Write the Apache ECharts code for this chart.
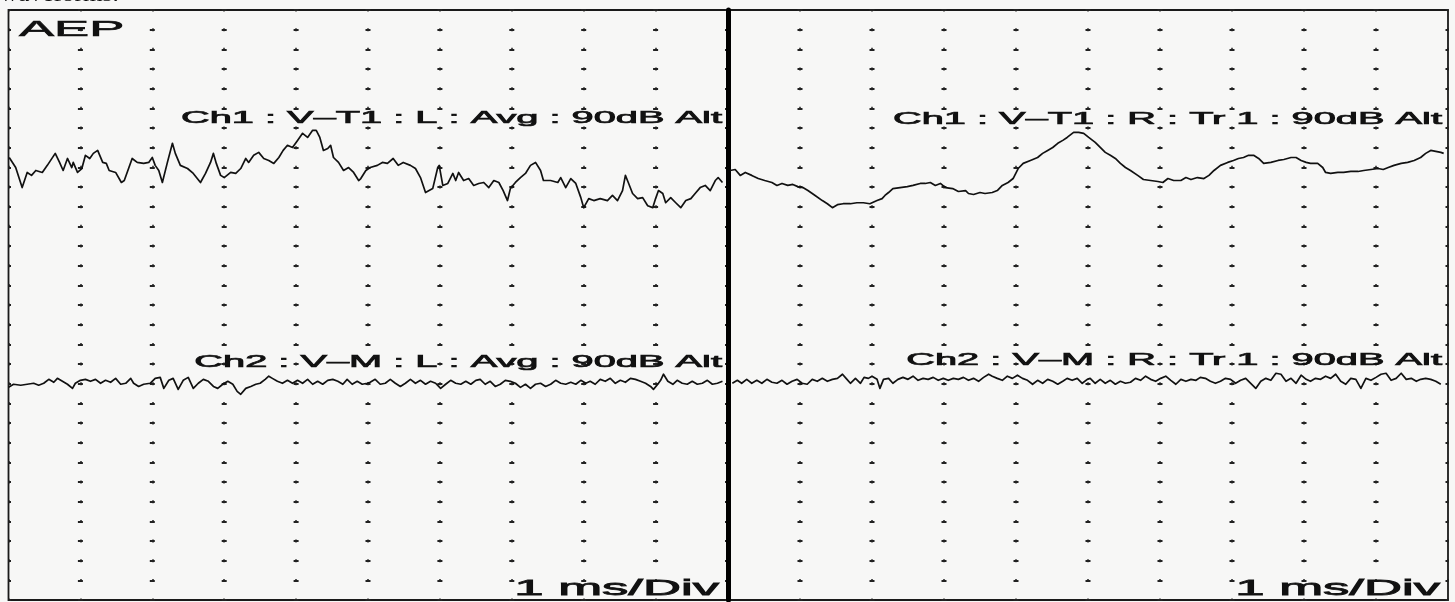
<!DOCTYPE html>
<html>
<head>
<meta charset="utf-8">
<script src="https://cdn.jsdelivr.net/npm/echarts@6/dist/echarts.min.js"></script>
<style>
  html, body { margin: 0; padding: 0; background: #f7f7f6; }
  #chart { width: 1455px; height: 602px; }
</style>
</head>
<body>
<div id="chart"></div>
<script>
// ---- Data (time in ms, amplitude in grid divisions; 30 divisions tall, 10 ms wide) ----
const timeTicksMs = [0, 1, 2, 3, 4, 5, 6, 7, 8, 9, 10];
const figureCaption = 'waveforms.';
const panelTitle = 'AEP';
const sweepLabel = '1 ms/Div';
const traceLabels = [
  'Ch1 : V\u2013T1 : L : Avg : 90dB Alt',
  'Ch1 : V\u2013T1 : R : Tr 1 : 90dB Alt',
  'Ch2 : V\u2013M : L : Avg : 90dB Alt',
  'Ch2 : V\u2013M : R : Tr 1 : 90dB Alt'
];

const ch1LeftAvg = [
  [0.01,22.50],[0.10,21.99],[0.19,20.97],[0.26,21.74],[0.32,21.59],[0.38,21.84],[0.47,21.74],[0.54,22.10],
  [0.65,22.71],[0.71,22.25],[0.76,21.84],[0.82,22.45],[0.88,21.99],[0.90,22.25],[0.96,21.74],[1.02,21.94],
  [1.07,22.61],[1.13,22.45],[1.18,22.71],[1.24,22.86],[1.31,22.25],[1.36,22.20],[1.40,21.84],[1.49,21.74],
  [1.57,21.23],[1.61,21.33],[1.67,21.94],[1.72,22.45],[1.79,22.25],[1.88,22.20],[1.95,22.25],[2.00,22.50],
  [2.04,22.10],[2.09,21.84],[2.14,21.23],[2.21,22.25],[2.28,23.22],[2.32,22.71],[2.39,22.10],[2.49,21.94],
  [2.57,21.69],[2.67,21.23],[2.74,21.69],[2.81,22.25],[2.85,22.71],[2.89,22.20],[2.95,21.59],[3.00,21.48],
  [3.09,21.74],[3.16,21.69],[3.23,21.94],[3.30,22.45],[3.34,22.25],[3.41,22.61],[3.48,22.76],[3.55,22.45],
  [3.62,22.35],[3.69,22.20],[3.76,22.50],[3.82,22.86],[3.88,23.12],[3.95,23.01],[4.02,23.37],[4.09,23.73],
  [4.16,23.52],[4.23,23.88],[4.28,23.88],[4.33,23.52],[4.38,22.86],[4.44,22.96],[4.48,23.12],[4.52,22.50],
  [4.59,22.25],[4.66,21.84],[4.73,21.99],[4.80,21.74],[4.87,21.33],[4.90,21.43],[4.97,21.84],[5.03,21.99],
  [5.13,22.10],[5.20,22.25],[5.27,22.20],[5.35,22.45],[5.42,22.10],[5.49,22.25],[5.59,22.10],[5.66,21.94],
  [5.73,21.48],[5.80,20.72],[5.90,20.92],[5.97,21.99],[5.99,22.10],[6.04,21.08],[6.11,21.18],[6.18,21.69],
  [6.22,21.33],[6.26,21.74],[6.33,21.33],[6.40,21.43],[6.47,21.08],[6.54,21.18],[6.61,21.23],[6.68,20.97],
  [6.75,21.33],[6.82,21.23],[6.88,20.82],[6.94,20.31],[6.98,20.92],[7.05,21.23],[7.12,21.48],[7.19,21.69],
  [7.26,22.10],[7.33,22.25],[7.40,21.84],[7.44,21.33],[7.54,21.33],[7.64,21.23],[7.68,21.48],[7.75,20.97],
  [7.82,21.43],[7.89,21.18],[7.96,20.46],[8.00,19.95],[8.07,20.41],[8.14,20.31],[8.23,20.41],[8.33,20.31],
  [8.40,20.57],[8.47,20.31],[8.54,20.82],[8.58,21.59],[8.62,21.23],[8.68,20.67],[8.75,20.41],[8.82,20.46],
  [8.89,20.05],[8.96,19.95],[9.00,20.41],[9.04,20.82],[9.10,20.67],[9.14,20.20],[9.21,20.46],[9.28,20.20],
  [9.35,19.95],[9.42,20.31],[9.49,20.41],[9.55,20.67],[9.62,20.97],[9.69,21.08],[9.76,20.82],[9.83,21.33],
  [9.87,21.48],[9.93,21.23]
];

const ch1RightTr1 = [
  [0.03,21.84],[0.10,21.89],[0.17,21.59],[0.24,21.74],[0.33,21.59],[0.42,21.43],[0.51,21.33],[0.61,21.23],
  [0.68,21.08],[0.75,21.18],[0.83,21.08],[0.90,21.13],[0.97,21.02],[1.04,20.97],[1.11,20.82],[1.21,20.57],
  [1.31,20.31],[1.38,20.15],[1.45,19.95],[1.52,20.10],[1.60,20.15],[1.70,20.15],[1.79,20.20],[1.88,20.20],
  [1.97,20.15],[2.07,20.31],[2.14,20.41],[2.18,20.57],[2.23,20.72],[2.29,20.92],[2.39,20.97],[2.49,21.02],
  [2.57,21.08],[2.67,21.18],[2.74,21.18],[2.81,21.23],[2.88,21.08],[2.95,21.18],[3.02,20.97],[3.12,20.92],
  [3.20,20.77],[3.30,20.82],[3.34,20.67],[3.41,20.62],[3.50,20.72],[3.57,20.67],[3.67,20.72],[3.74,20.82],
  [3.81,21.08],[3.89,21.23],[3.96,21.43],[4.03,21.94],[4.10,22.20],[4.20,22.35],[4.30,22.50],[4.37,22.71],
  [4.44,22.86],[4.51,23.01],[4.58,23.22],[4.65,23.37],[4.71,23.52],[4.80,23.78],[4.87,23.78],[4.94,23.73],
  [5.01,23.52],[5.10,23.27],[5.17,23.01],[5.24,22.76],[5.31,22.61],[5.38,22.45],[5.45,22.20],[5.52,21.99],
  [5.59,21.84],[5.69,21.59],[5.77,21.38],[5.87,21.33],[5.97,21.28],[6.04,21.23],[6.11,21.43],[6.19,21.33],
  [6.29,21.33],[6.36,21.48],[6.43,21.38],[6.52,21.48],[6.61,21.43],[6.68,21.59],[6.75,21.84],[6.84,22.10],
  [6.94,22.25],[7.02,22.35],[7.09,22.45],[7.16,22.50],[7.23,22.61],[7.30,22.61],[7.37,22.45],[7.44,22.20],
  [7.54,22.25],[7.64,22.35],[7.72,22.40],[7.82,22.50],[7.89,22.50],[7.96,22.35],[8.03,22.25],[8.09,22.20],
  [8.19,22.20],[8.26,21.99],[8.30,21.74],[8.37,21.69],[8.47,21.74],[8.55,21.74],[8.65,21.79],[8.75,21.79],
  [8.83,21.84],[8.93,21.89],[9.03,21.94],[9.10,21.89],[9.17,21.99],[9.25,22.10],[9.35,22.20],[9.44,22.25],
  [9.53,22.35],[9.62,22.50],[9.69,22.71],[9.76,22.86],[9.83,22.81],[9.90,22.76],[9.94,22.71]
];

const ch2LeftAvg = [
  [0.00,10.81],[0.07,10.97],[0.17,10.92],[0.26,10.97],[0.35,11.02],[0.42,10.92],[0.49,11.02],[0.56,11.22],
  [0.63,11.07],[0.68,11.27],[0.75,11.12],[0.82,10.97],[0.89,10.76],[0.93,11.02],[1.00,11.17],[1.07,11.22],
  [1.14,11.12],[1.21,11.22],[1.28,11.02],[1.35,11.17],[1.42,11.07],[1.49,11.27],[1.56,10.97],[1.63,11.02],
  [1.70,11.27],[1.74,11.02],[1.81,10.86],[1.88,10.97],[1.97,11.02],[2.04,11.27],[2.11,11.32],[2.16,10.76],
  [2.23,11.17],[2.29,11.27],[2.36,10.71],[2.43,11.17],[2.50,11.32],[2.57,10.76],[2.64,11.02],[2.71,11.22],
  [2.78,11.12],[2.85,10.86],[2.91,10.76],[2.98,10.97],[3.05,11.12],[3.12,10.97],[3.18,10.61],[3.23,10.46],
  [3.30,10.76],[3.37,10.86],[3.44,10.97],[3.50,11.02],[3.57,11.22],[3.62,11.38],[3.67,11.27],[3.74,11.12],
  [3.81,11.02],[3.88,11.17],[3.95,11.02],[4.02,11.17],[4.09,11.02],[4.16,11.22],[4.23,10.97],[4.30,11.12],
  [4.37,10.97],[4.44,11.17],[4.51,11.22],[4.58,11.12],[4.65,10.97],[4.71,11.22],[4.78,10.97],[4.85,11.12],
  [4.92,10.97],[4.99,11.02],[5.03,11.07],[5.10,11.22],[5.17,10.97],[5.24,11.02],[5.31,11.22],[5.38,11.02],
  [5.45,10.86],[5.52,11.02],[5.59,11.22],[5.66,11.02],[5.73,11.17],[5.80,10.97],[5.87,11.12],[5.94,11.02],
  [6.01,10.76],[6.08,10.97],[6.15,11.17],[6.22,11.02],[6.29,10.97],[6.36,11.12],[6.43,10.97],[6.50,11.17],
  [6.56,11.22],[6.63,10.97],[6.70,11.12],[6.77,10.86],[6.84,10.97],[6.91,11.17],[6.98,11.12],[7.05,11.02],
  [7.12,10.81],[7.19,10.97],[7.26,10.76],[7.33,10.97],[7.40,11.02],[7.47,10.86],[7.54,10.97],[7.61,11.17],
  [7.68,11.02],[7.75,10.97],[7.82,11.07],[7.89,10.97],[7.96,11.17],[8.03,11.02],[8.09,11.12],[8.16,10.97],
  [8.23,11.22],[8.30,11.12],[8.37,11.27],[8.44,11.02],[8.51,11.17],[8.58,11.07],[8.65,11.27],[8.72,11.22],
  [8.79,11.12],[8.86,11.02],[8.93,10.86],[8.97,10.71],[9.03,10.97],[9.07,11.17],[9.11,11.48],[9.17,11.12],
  [9.24,10.97],[9.30,11.17],[9.37,11.02],[9.44,10.97],[9.51,11.12],[9.58,10.97],[9.65,11.02],[9.72,11.17],
  [9.79,10.97],[9.86,11.02],[9.93,11.12]
];

const ch2RightTr1 = [
  [0.06,11.02],[0.13,11.17],[0.19,11.02],[0.26,11.22],[0.33,11.02],[0.40,11.17],[0.47,11.02],[0.54,11.22],
  [0.61,11.07],[0.68,11.02],[0.75,11.17],[0.82,10.97],[0.89,11.12],[0.96,11.22],[1.03,11.02],[1.10,10.97],
  [1.17,11.22],[1.24,11.12],[1.31,11.27],[1.38,11.12],[1.45,11.22],[1.52,11.27],[1.59,11.48],[1.64,11.27],
  [1.70,11.02],[1.77,11.27],[1.84,11.02],[1.89,11.32],[1.95,11.27],[2.00,11.38],[2.07,11.22],[2.11,10.76],
  [2.16,11.22],[2.23,11.27],[2.29,11.02],[2.36,11.22],[2.43,11.32],[2.50,11.22],[2.57,11.38],[2.64,11.17],
  [2.71,11.27],[2.78,11.22],[2.85,11.32],[2.92,11.17],[2.99,11.27],[3.06,11.17],[3.13,11.27],[3.20,11.22],
  [3.27,11.32],[3.34,11.17],[3.41,11.27],[3.48,11.12],[3.55,11.32],[3.62,11.48],[3.67,11.38],[3.74,11.27],
  [3.81,11.17],[3.88,11.38],[3.95,11.27],[4.02,11.43],[4.09,11.27],[4.16,11.17],[4.23,10.97],[4.30,11.17],
  [4.37,11.02],[4.44,11.22],[4.51,11.12],[4.58,10.97],[4.65,11.12],[4.71,11.27],[4.78,11.17],[4.85,11.27],
  [4.92,11.02],[4.99,11.22],[5.03,11.27],[5.10,11.02],[5.17,11.22],[5.24,11.02],[5.31,11.17],[5.38,10.97],
  [5.45,11.12],[5.52,11.02],[5.59,11.07],[5.66,11.27],[5.73,11.17],[5.80,11.38],[5.87,11.22],[5.94,11.12],
  [6.01,11.27],[6.08,11.38],[6.15,11.17],[6.22,10.97],[6.29,11.22],[6.36,11.12],[6.43,11.22],[6.50,11.17],
  [6.56,11.32],[6.63,11.27],[6.70,11.12],[6.77,11.02],[6.84,11.12],[6.91,11.27],[6.98,11.22],[7.05,11.02],
  [7.12,11.17],[7.19,11.27],[7.26,11.02],[7.33,10.76],[7.40,11.12],[7.47,11.27],[7.54,11.17],[7.61,11.53],
  [7.68,11.48],[7.75,11.12],[7.82,11.27],[7.89,11.02],[7.96,11.43],[8.03,11.22],[8.09,11.12],[8.16,11.27],
  [8.23,11.22],[8.30,11.38],[8.37,11.27],[8.44,11.48],[8.51,11.12],[8.58,10.97],[8.65,11.27],[8.72,11.22],
  [8.79,10.76],[8.86,11.27],[8.93,11.17],[9.00,11.32],[9.07,11.48],[9.14,11.53],[9.21,11.17],[9.28,11.27],
  [9.35,11.53],[9.42,11.22],[9.49,11.27],[9.56,11.12],[9.62,11.22],[9.69,11.27],[9.76,11.22],[9.83,11.12],
  [9.90,10.97]
];

// ---- Chart ----
const INK = '#111111';
const DOT = '#222222';
const STRETCH = 2.34;   // the scanned figure is stretched horizontally
const SANS = '"Liberation Sans", Arial, Helvetica, sans-serif';

function makeXAxis(gridIndex) {
  return {
    type: 'value', gridIndex, min: timeTicksMs[0], max: timeTicksMs[timeTicksMs.length - 1], interval: 1,
    axisLine: { show: false }, axisTick: { show: false }, axisLabel: { show: false },
    splitLine: { show: true, lineStyle: { color: DOT, width: 1.5, type: [3, 16.67], dashOffset: 1.5 } }
  };
}
function makeYAxis(gridIndex, colPx, leftLine) {
  return {
    type: 'value', gridIndex, min: 0, max: 30, interval: 1,
    axisLine: leftLine ? { show: true, onZero: false, lineStyle: { color: '#000', width: 5 } } : { show: false },
    axisTick: { show: false }, axisLabel: { show: false },
    splitLine: { show: true, lineStyle: { color: DOT, width: 2, type: [5, colPx - 5], dashOffset: 2.5 } }
  };
}
function trace(data, xi) {
  return {
    type: 'line', xAxisIndex: xi, yAxisIndex: xi, data, showSymbol: false, symbol: 'none',
    smooth: false, lineStyle: { color: INK, width: 1.7, join: 'round' }, silent: true, z: 5
  };
}
function label(text, x, y, size, align, stroke) {
  return {
    type: 'text', x, y, scaleX: STRETCH, z: 10,
    style: { text, x: 0, y: 0, font: `${size}px ${SANS}`, fill: INK, stroke: INK, lineWidth: stroke,
             textAlign: align, textVerticalAlign: 'middle' }
  };
}

const chart = echarts.init(document.getElementById('chart'), null, { renderer: 'canvas' });
chart.setOption({
  backgroundColor: '#f7f7f6',
  animation: false,
  grid: [
    { left: 8.5, top: 10, width: 719, height: 590, show: true, borderColor: '#1a1a1a', borderWidth: 1.8, backgroundColor: 'transparent' },
    { left: 728, top: 10, width: 720, height: 590, show: true, borderColor: '#1a1a1a', borderWidth: 1.8, backgroundColor: 'transparent' }
  ],
  xAxis: [makeXAxis(0), makeXAxis(1)],
  yAxis: [makeYAxis(0, 71.9, false), makeYAxis(1, 72, true)],
  series: [
    trace(ch1LeftAvg, 0),
    trace(ch2LeftAvg, 0),
    trace(ch1RightTr1, 1),
    trace(ch2RightTr1, 1)
  ],
  graphic: [
    { type: 'text', x: 0, y: -5, z: 10, scaleX: 1.15,
      style: { text: figureCaption, x: 0, y: 0, font: '22px "Liberation Serif", "Times New Roman", serif', fill: INK, textAlign: 'left', textVerticalAlign: 'middle' } },
    label(panelTitle, 19, 30, 22.5, 'left', 0.6),
    label(traceLabels[0], 722, 118.5, 17, 'right', 0.7),
    label(traceLabels[1], 1442, 119, 17, 'right', 0.7),
    label(traceLabels[2], 722, 362, 17, 'right', 0.7),
    label(traceLabels[3], 1442, 360, 17, 'right', 0.7),
    label(sweepLabel, 719, 589, 22.5, 'right', 0.8),
    label(sweepLabel, 1440, 589, 22.5, 'right', 0.8)
  ]
});
</script>
</body>
</html>
